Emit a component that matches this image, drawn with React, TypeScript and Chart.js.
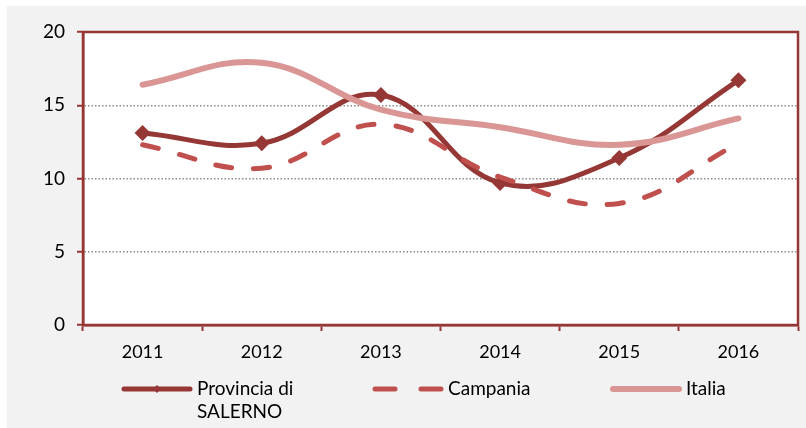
import React, { useEffect, useRef } from "react";
import { Chart, registerables } from "chart.js";

Chart.register(...registerables);

const categories = ["2011", "2012", "2013", "2014", "2015", "2016"];
const provinciaSalerno = [13.1, 12.4, 15.7, 9.7, 11.4, 16.7];
const campania = [12.3, 10.7, 13.7, 10.1, 8.3, 12.4];
const italia = [16.4, 17.9, 14.7, 13.5, 12.3, 14.1];
const yTicks = [0, 5, 10, 15, 20];

const DARK = "#953735";
const MID = "#c0504d";
const LIGHT = "#d99694";
const FONT = "Lato, 'Open Sans', sans-serif";

const bgPlugin = {
  id: "bgPlugin",
  beforeDraw(chart: any) {
    const { ctx, chartArea: a, width, height } = chart;
    ctx.save();
    ctx.fillStyle = "#f2f2f2";
    ctx.fillRect(0, 0, width, height);
    ctx.fillStyle = "#ffffff";
    ctx.fillRect(a.left, a.top, a.right - a.left, a.bottom - a.top);
    ctx.restore();
  },
  beforeDatasetsDraw(chart: any) {
    const { ctx, chartArea: a } = chart;
    ctx.save();
    ctx.strokeStyle = DARK;
    ctx.lineWidth = 2.5;
    ctx.strokeRect(a.left, a.top, a.right - a.left, a.bottom - a.top);
    ctx.restore();
  },
  afterDraw(chart: any) {
    const { ctx } = chart;
    const ds = chart.data.datasets;
    const items = [
      { x: 115, lines: ["Provincia di", "SALERNO"], d: ds[0] },
      { x: 366, lines: [ds[1].label], d: ds[1] },
      { x: 604, lines: [ds[2].label], d: ds[2] },
    ];
    const y = 383;
    ctx.save();
    for (const it of items) {
      const d = it.d;
      ctx.strokeStyle = d.borderColor;
      ctx.lineWidth = d.borderWidth;
      ctx.lineCap = "round";
      ctx.setLineDash(d.borderDash ? [20, 26] : []);
      ctx.beginPath();
      ctx.moveTo(it.x + 2, y);
      ctx.lineTo(it.x + 68, y);
      ctx.stroke();
      ctx.setLineDash([]);
      if (d.pointRadius > 0) {
        ctx.fillStyle = d.borderColor;
        ctx.beginPath();
        const cx = it.x + 35;
        const r = 4;
        ctx.moveTo(cx, y - r);
        ctx.lineTo(cx + r, y);
        ctx.lineTo(cx, y + r);
        ctx.lineTo(cx - r, y);
        ctx.closePath();
        ctx.fill();
      }
      ctx.fillStyle = "#000";
      ctx.font = "19px " + FONT;
      ctx.textBaseline = "middle";
      ctx.textAlign = "left";
      it.lines.forEach((t: string, i: number) => {
        ctx.fillText(t, it.x + 75, y + i * 23);
      });
    }
    ctx.restore();
  },
};

export default function App() {
  const ref = useRef<HTMLCanvasElement>(null);
  useEffect(() => {
    const chart = new Chart(ref.current!, {
      type: "line",
      data: {
        labels: categories,
        datasets: [
          {
            label: "Provincia di SALERNO",
            data: provinciaSalerno,
            borderColor: DARK,
            backgroundColor: DARK,
            borderWidth: 5,
            tension: 0.4,
            pointStyle: "rectRot",
            pointRadius: 8,
            pointBackgroundColor: DARK,
            pointBorderColor: DARK,
            pointBorderWidth: 0,
            order: 3,
          },
          {
            label: "Campania",
            data: campania,
            borderColor: MID,
            backgroundColor: MID,
            borderWidth: 5,
            borderDash: [16, 22],
            borderCapStyle: "round",
            tension: 0.4,
            pointRadius: 0,
            order: 2,
          },
          {
            label: "Italia",
            data: italia,
            borderColor: LIGHT,
            backgroundColor: LIGHT,
            borderWidth: 6,
            borderCapStyle: "round",
            tension: 0.4,
            pointRadius: 0,
            order: 1,
          },
        ] as any,
      },
      options: {
        animation: false,
        responsive: false,
        layout: { padding: { top: 26, right: 7, left: 0, bottom: 0 } },
        plugins: { legend: { display: false }, tooltip: { enabled: false } },
        scales: {
          x: {
            offset: true,
            grid: {
              offset: true,
              drawOnChartArea: false,
              drawTicks: true,
              tickLength: 6,
              tickColor: DARK,
              tickWidth: 2,
            },
            border: { color: DARK, width: 2.5 },
            ticks: { color: "#000", font: { family: FONT, size: 18 }, padding: 10, maxRotation: 0 },
            afterFit(scale: any) {
              scale.height = 103;
            },
          },
          y: {
            min: yTicks[0],
            max: yTicks[yTicks.length - 1],
            afterBuildTicks(scale: any) {
              scale.ticks = yTicks.map((v) => ({ value: v }));
            },
            grid: {
              color: (c: any) =>
                c.tick && (c.tick.value === 0 || c.tick.value === 20) ? "rgba(0,0,0,0)" : "#8c8c8c",
              lineWidth: 1.5,
              tickLength: 6,
              tickColor: DARK,
              tickWidth: 2,
            },
            border: { color: DARK, width: 2.5, dash: [1.5, 2] },
            ticks: { color: "#000", font: { family: FONT, size: 19 }, padding: 12 },
            afterFit(scale: any) {
              scale.width = 76;
            },
          },
        },
      } as any,
      plugins: [bgPlugin],
    });
    return () => chart.destroy();
  }, []);
  return (
    <div style={{ position: "absolute", left: 7, top: 6, width: 799, height: 422 }}>
      <canvas ref={ref} width={799} height={422} />
    </div>
  );
}
